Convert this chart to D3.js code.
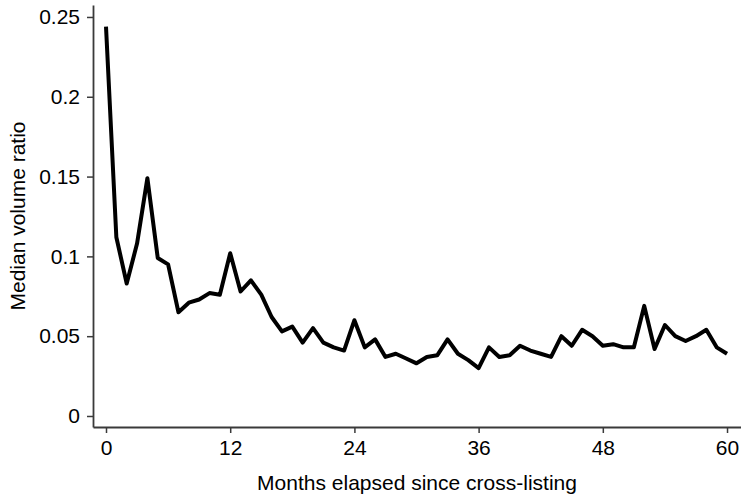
<!DOCTYPE html>
<html>
<head>
<meta charset="utf-8">
<script src="https://cdn.jsdelivr.net/npm/d3@7"></script>
<style>
  html, body { margin: 0; padding: 0; background: #fff; }
  svg { display: block; }
  text { font-family: "Liberation Sans", Arial, Helvetica, sans-serif; fill: #000; }
</style>
</head>
<body>
<svg id="chart" width="741" height="496"></svg>
<script>
// ---- data ----
const months = [0,1,2,3,4,5,6,7,8,9,10,11,12,13,14,15,16,17,18,19,20,
  21,22,23,24,25,26,27,28,29,30,31,32,33,34,35,36,37,38,39,40,
  41,42,43,44,45,46,47,48,49,50,51,52,53,54,55,56,57,58,59,60];
const medianVolumeRatio = [0.244,0.112,0.083,0.108,0.149,0.099,0.095,0.065,0.071,0.073,0.077,
  0.076,0.102,0.078,0.085,0.076,0.062,0.053,0.056,0.046,0.055,
  0.046,0.043,0.041,0.060,0.043,0.048,0.037,0.039,0.036,0.033,
  0.037,0.038,0.048,0.039,0.035,0.030,0.043,0.037,0.038,0.044,
  0.041,0.039,0.037,0.050,0.044,0.054,0.050,0.044,0.045,0.043,
  0.043,0.069,0.042,0.057,0.050,0.047,0.050,0.054,0.043,0.039];
const xTickValues = [0,12,24,36,48,60];
const yTickValues = [0,0.05,0.1,0.15,0.2,0.25];
const yTickLabels = ["0","0.05","0.1","0.15","0.2","0.25"];
const xTitle = "Months elapsed since cross-listing";
const yTitle = "Median volume ratio";

// ---- layout ----
const svg = d3.select("#chart");
const mLeft = 93, mRight = 741, mTop = 5, mBottom = 427;

const x = d3.scaleLinear().domain([-1.256, 61.35]).range([mLeft, mRight]);
const y = d3.scaleLinear().domain([-0.0069, 0.2575]).range([mBottom, mTop]);

const axisColor = "#3a3a3a";
const fontSize = 21;

// x axis
const gx = svg.append("g")
  .attr("transform", `translate(0,${mBottom})`)
  .call(d3.axisBottom(x).tickValues(xTickValues).tickSize(6).tickPadding(7).tickSizeOuter(0));
gx.select(".domain").attr("stroke", axisColor).attr("stroke-width", 1.8);
gx.selectAll(".tick line").attr("stroke", axisColor).attr("stroke-width", 1.5);
gx.selectAll(".tick text").attr("font-size", fontSize).attr("fill", "#000")
  .attr("font-family", "Liberation Sans, Arial, sans-serif");

// y axis
const gy = svg.append("g")
  .attr("transform", `translate(${mLeft},0)`)
  .call(d3.axisLeft(y).tickValues(yTickValues)
    .tickFormat((d, i) => yTickLabels[i]).tickSize(6).tickPadding(7).tickSizeOuter(0));
gy.select(".domain").attr("stroke", axisColor).attr("stroke-width", 1.8);
gy.selectAll(".tick line").attr("stroke", axisColor).attr("stroke-width", 1.5);
gy.selectAll(".tick text").attr("font-size", fontSize).attr("fill", "#000")
  .attr("font-family", "Liberation Sans, Arial, sans-serif");

// line
const data = months.map((m, i) => ({ m, v: medianVolumeRatio[i] }));
svg.append("path")
  .datum(data)
  .attr("fill", "none")
  .attr("stroke", "#000")
  .attr("stroke-width", 4)
  .attr("stroke-linejoin", "round")
  .attr("stroke-linecap", "butt")
  .attr("d", d3.line().x(d => x(d.m)).y(d => y(d.v)));

// titles
svg.append("text")
  .attr("x", (mLeft + mRight) / 2)
  .attr("y", 490)
  .attr("text-anchor", "middle")
  .attr("font-size", fontSize)
  .text(xTitle);

svg.append("text")
  .attr("transform", `translate(25,216) rotate(-90)`)
  .attr("text-anchor", "middle")
  .attr("font-size", fontSize)
  .text(yTitle);
</script>
</body>
</html>
